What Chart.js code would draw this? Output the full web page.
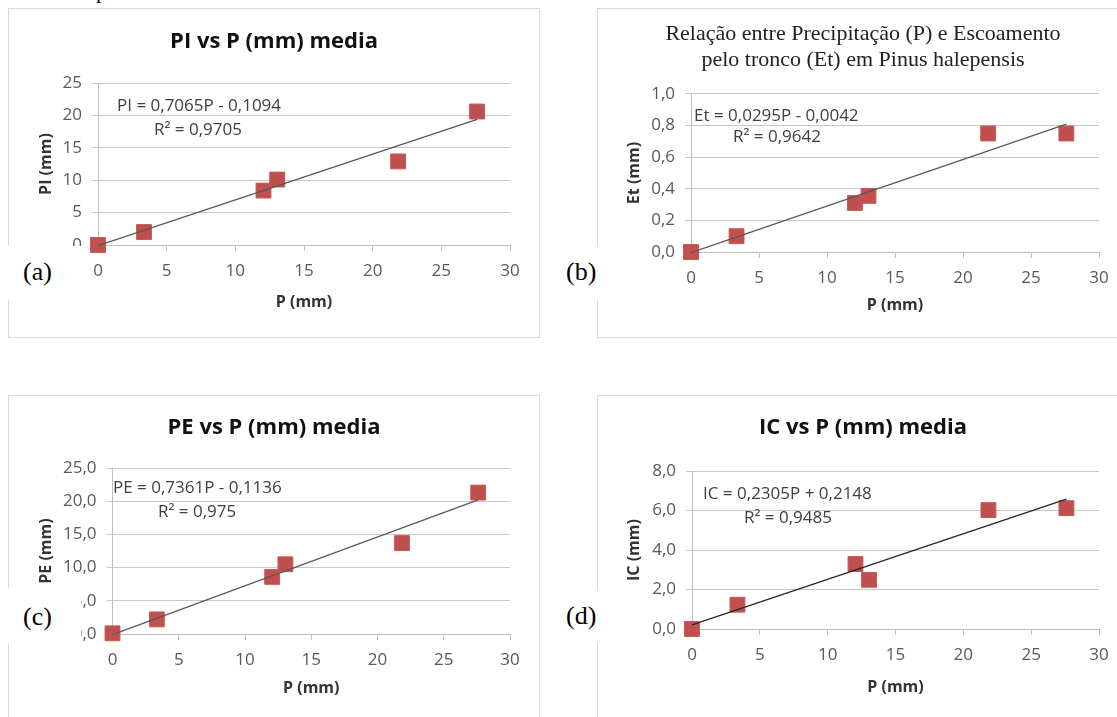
<!DOCTYPE html>
<html><head><meta charset="utf-8">
<script src="https://cdn.jsdelivr.net/npm/chart.js@4.4.1/dist/chart.umd.min.js"></script>
<style>
html,body{margin:0;padding:0;background:#fff;width:1117px;height:717px;overflow:hidden;position:relative;}
.box{position:absolute;border:1px solid #d9d9d9;box-sizing:border-box;}
.box canvas{position:absolute;left:0;top:0;}
.cover{position:absolute;background:#fff;}
.eq{position:absolute;font-family:'Open Sans';font-size:17px;color:#404040;line-height:20px;white-space:nowrap;}
.lab{position:absolute;font-family:'Liberation Serif';font-size:26px;color:#000;line-height:30px;white-space:nowrap;}
</style></head><body>
<div style="position:absolute;left:96px;top:-21px;font-family:'Liberation Serif';font-size:22px;line-height:24px;">p</div>

<div class="box" style="left:8px;top:8px;width:532px;height:330px;"><canvas id="cA" width="530" height="328"></canvas></div>
<div class="box" style="left:597px;top:8px;width:540px;height:330px;"><canvas id="cB" width="530" height="328"></canvas></div>
<div class="box" style="left:8px;top:395px;width:532px;height:340px;"><canvas id="cC" width="530" height="321"></canvas></div>
<div class="box" style="left:597px;top:395px;width:540px;height:340px;"><canvas id="cD" width="530" height="321"></canvas></div>

<div class="cover" style="left:0;top:246px;width:88px;height:54px;"></div>
<div class="cover" style="left:560px;top:246px;width:60px;height:54px;"></div>
<div class="cover" style="left:0;top:588px;width:81px;height:55px;"></div>
<div class="cover" style="left:560px;top:590px;width:60px;height:53px;"></div>

<div class="lab" style="left:23px;top:257px;">(a)</div>
<div class="lab" style="left:566px;top:257px;">(b)</div>
<div class="lab" style="left:23px;top:602px;">(c)</div>
<div class="lab" style="left:566px;top:601px;">(d)</div>

<div class="eq" style="left:117px;top:95px;">PI = 0,7065P - 0,1094</div>
<div class="eq" style="left:154px;top:119px;">R² = 0,9705</div>
<div class="eq" style="left:694px;top:105px;">Et = 0,0295P - 0,0042</div>
<div class="eq" style="left:733px;top:126px;">R² = 0,9642</div>
<div class="eq" style="left:113px;top:477px;">PE = 0,7361P - 0,1136</div>
<div class="eq" style="left:158px;top:501px;">R² = 0,975</div>
<div class="eq" style="left:703px;top:483px;">IC = 0,2305P + 0,2148</div>
<div class="eq" style="left:744px;top:507px;">R² = 0,9485</div>

<script>
// ---- data ----
const xTickLabels = ['0', '5', '10', '15', '20', '25', '30'];
const pValues  = [0, 3.35, 12.05, 13.05, 21.85, 27.6];
const piValues = [0, 2.0, 8.4, 10.1, 12.9, 20.6];
const etValues = [0, 0.1, 0.31, 0.355, 0.75, 0.75];
const peValues = [0.1, 2.2, 8.6, 10.5, 13.7, 21.3];
const icValues = [0, 1.23, 3.29, 2.49, 6.02, 6.12];
const trendX   = [0, 27.6];
const trendPI  = [-0.11, 19.39];
const trendEt  = [-0.004, 0.81];
const trendPE  = [-0.11, 20.2];
const trendIC  = [0.21, 6.58];
const yTicksPI = ['0', '5', '10', '15', '20', '25'];
const yTicksEt = ['0,0', '0,2', '0,4', '0,6', '0,8', '1,0'];
const yTicksPE = ['0,0', '5,0', '10,0', '15,0', '20,0', '25,0'];
const yTicksIC = ['0,0', '2,0', '4,0', '6,0', '8,0'];
const titlePI = 'PI vs P (mm) media';
const titleEt = ['Relação entre Precipitação (P) e Escoamento', 'pelo tronco (Et) em Pinus halepensis'];
const titlePE = 'PE vs P (mm) media';
const titleIC = 'IC vs P (mm) media';
const xTitle = 'P (mm)';

Chart.defaults.font.family = "'Open Sans'";
Chart.defaults.animation = false;

function zeroPad(s) { s.paddingLeft = 0; s.paddingRight = 0; s.paddingTop = 0; s.paddingBottom = 0; }

function makeChart(id, o) {
  const pts = pValues.map((x, i) => ({ x: x, y: o.y[i] }));
  const tr = trendX.map((x, i) => ({ x: x, y: o.trend[i] }));
  return new Chart(document.getElementById(id), {
    type: 'scatter',
    data: { datasets: [
      { data: tr, showLine: true, borderColor: o.trendColor, borderWidth: 1.3, pointRadius: 0, clip: false, order: 0 },
      { data: pts, pointStyle: 'rect', pointRadius: 10.5, backgroundColor: '#c0504d', borderColor: '#c55856', borderWidth: 1, clip: false, order: 1 }
    ]},
    options: {
      responsive: false,
      animation: false,
      layout: { padding: 0 },
      plugins: {
        legend: { display: false },
        tooltip: { enabled: false },
        title: { display: true, text: o.title, color: o.titleColor, font: o.titleFont,
                 padding: { top: o.tPadTop, bottom: o.tPadBottom } }
      },
      scales: {
        x: { type: 'linear', position: 'bottom', min: 0, max: 30,
             ticks: { stepSize: 5, padding: 10, color: '#595959', font: { size: 17 }, maxRotation: 0, autoSkip: false,
                      callback: (v, i) => xTickLabels[i] },
             grid: { drawOnChartArea: false, drawTicks: true, tickLength: 6, color: '#bfbfbf', lineWidth: 1 },
             border: { display: true, color: '#bfbfbf', width: 1 },
             title: { display: true, text: xTitle, color: '#333', font: { size: 16, weight: 'bold' }, padding: { top: 0, bottom: o.xTitlePad } },
             afterFit: s => { s.height = o.xH; zeroPad(s); } },
        y: { type: 'linear', position: 'left', min: 0, max: o.ymax,
             ticks: { stepSize: o.step, padding: 10, color: '#595959', font: { size: 17 },
                      callback: (v, i) => o.yTicks[i] },
             grid: { drawOnChartArea: true, drawTicks: true, tickLength: 6, color: '#c8c8c8', lineWidth: 1 },
             border: { display: true, color: '#bfbfbf', width: 1 },
             title: { display: true, text: o.yTitle, color: '#333', font: { size: 16, weight: 'bold' }, padding: { top: o.yTitlePad, bottom: 0 } },
             afterFit: s => { s.width = o.yW; zeroPad(s); } },
        yRight: { type: 'linear', axis: 'y', position: 'right', display: true,
                  grid: { display: false }, border: { display: false }, ticks: { display: false },
                  afterFit: s => { s.width = 29; zeroPad(s); } }
      }
    }
  });
}

const boldTitle = { size: 22, weight: 'bold', lineHeight: 1.2 };

makeChart('cA', { y: piValues, trend: trendPI, trendColor: '#595959', ymax: 25, step: 5, yTicks: yTicksPI,
  title: titlePI, titleColor: '#111', titleFont: boldTitle, tPadTop: 19.8, tPadBottom: 27.8,
  yTitle: 'PI (mm)', yTitlePad: 27.4, yW: 89, xH: 92, xTitlePad: 25.4 });

makeChart('cB', { y: etValues, trend: trendEt, trendColor: '#595959', ymax: 1, step: 0.2, yTicks: yTicksEt,
  title: titleEt, titleColor: '#222', titleFont: { family: "'Liberation Serif'", size: 22, weight: 'normal', lineHeight: 1.1818 },
  tPadTop: 12, tPadBottom: 21,
  yTitle: 'Et (mm)', yTitlePad: 26.4, yW: 93, xH: 85, xTitlePad: 22.4 });

makeChart('cC', { y: peValues, trend: trendPE, trendColor: '#595959', ymax: 25, step: 5, yTicks: yTicksPE,
  title: titlePE, titleColor: '#111', titleFont: boldTitle, tPadTop: 18.8, tPadBottom: 26.8,
  yTitle: 'PE (mm)', yTitlePad: 27.4, yW: 103.5, xH: 83, xTitlePad: 19.4 });

makeChart('cD', { y: icValues, trend: trendIC, trendColor: '#262626', ymax: 8, step: 2, yTicks: yTicksIC,
  title: titleIC, titleColor: '#111', titleFont: boldTitle, tPadTop: 18.8, tPadBottom: 29.8,
  yTitle: 'IC (mm)', yTitlePad: 26.4, yW: 94, xH: 88, xTitlePad: 20.4 });
</script>
</body></html>
